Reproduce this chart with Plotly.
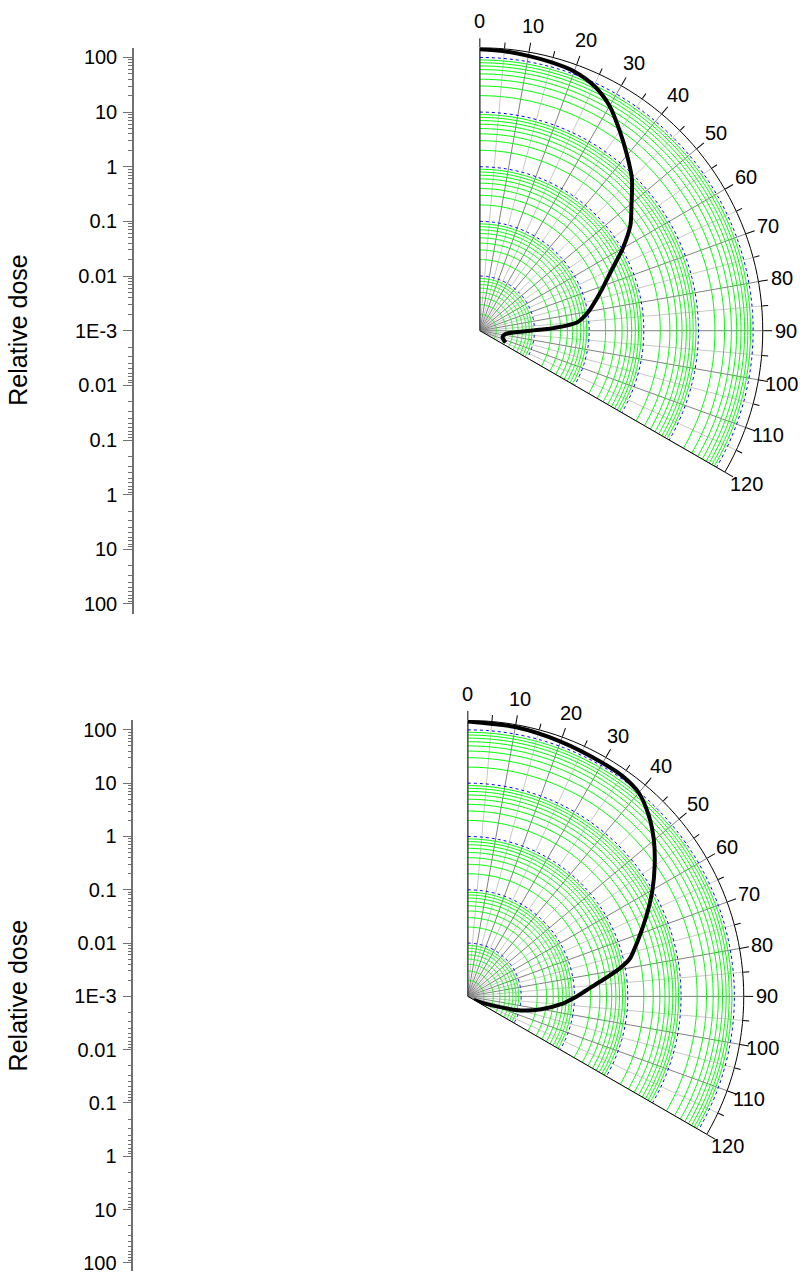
import numpy as np
import plotly.graph_objects as go

W, H = 808, 1275

# Angle (deg, clockwise from the beam axis) and relative dose for each profile
theta_upper = [0, 5, 10, 15, 20, 25, 30, 35, 40, 45, 50, 55, 60, 65, 70, 75, 80,
               85, 88, 90, 95, 100, 106, 112, 114.5]
dose_upper = [141, 136, 128, 121, 112, 88, 56, 29, 15.5, 8.6, 4.2, 2.3, 1.05, 0.47,
              0.26, 0.16, 0.105, 0.062, 0.022, 0.0085, 0.0033, 0.0028, 0.0027,
              0.0030, 0.0033]

theta_lower = [0, 10, 20, 30, 35, 40, 45, 50, 55, 60, 65, 70, 74, 77, 80, 83, 86,
               90, 95, 100, 105, 110, 115, 119.5]
dose_lower = [144, 135, 122, 114, 112, 97, 63, 36, 19, 10, 5.2, 2.8, 1.8, 1.3, 0.72,
              0.36, 0.2, 0.11, 0.055, 0.025, 0.0105, 0.0032, 0.0018, 0.00135]

# Radial log scale (centre = 1E-3) and grid definitions
r_min, r_max = 1e-3, 150
decade_circles = [0.01, 0.1, 1, 10, 100]
minor_circles = [m * 10.0 ** k for k in range(-3, 2) for m in range(2, 10)]
angle_labels = list(range(0, 121, 10))
angle_minor = list(range(5, 120, 10))
spoke_angles = list(range(0, 121, 5))
scale_labels = ["100", "10", "1", "0.1", "0.01", "1E-3", "0.01", "0.1", "1", "10", "100"]

FONT = "Liberation Sans, Arial, sans-serif"

panels = [
    dict(cx=479.3, cy=330.0, R=284.0, axis_x=134.0, theta=theta_upper, dose=dose_upper),
    dict(cx=467.3, cy=998.3, R=277.0, axis_x=133.3, theta=theta_lower, dose=dose_lower),
]

arc = np.arange(0, 120.5, 1.0)


def rings(values):
    r, t = [], []
    for v in values:
        r += [v] * len(arc) + [None]
        t += list(arc) + [None]
    return r, t


def spokes(angles):
    r, t = [], []
    for a in angles:
        r += [r_min, r_max, None]
        t += [a, a, None]
    return r, t


fig = go.Figure()
layout = dict(width=W, height=H, margin=dict(l=0, r=0, t=0, b=0), autosize=False,
              paper_bgcolor="white", plot_bgcolor="white", showlegend=False,
              hovermode=False, font=dict(family=FONT, color="black"), annotations=[])

L = 3 + np.log10(r_max)
minor_vals = []
for k in range(0, 5):
    for m in range(2, 10):
        minor_vals += [k + np.log10(m), -(k + np.log10(m))]

for i, p in enumerate(panels):
    main = "polar" if i == 0 else "polar%d" % (i + 1)
    over = "polar%d" % (i + 3)
    cx, cy, R = p["cx"], p["cy"], p["R"]
    dom = dict(x=[cx / W, (cx + R) / W], y=[1 - (cy + 0.5 * R) / H, 1 - (cy - R) / H])

    light = [a for a in spoke_angles if a % 10]
    dark = [a for a in spoke_angles if a % 10 == 0]
    r, t = spokes(light)
    fig.add_trace(go.Scatterpolar(r=r, theta=t, mode="lines", subplot=main,
                                  line=dict(color="#c8c8c8", width=1)))
    r, t = spokes(dark)
    fig.add_trace(go.Scatterpolar(r=r, theta=t, mode="lines", subplot=main,
                                  line=dict(color="#808080", width=1)))
    r, t = rings(minor_circles)
    fig.add_trace(go.Scatterpolar(r=r, theta=t, mode="lines", subplot=main,
                                  line=dict(color="#00ff00", width=1)))
    r, t = rings(decade_circles)
    fig.add_trace(go.Scatterpolar(r=r, theta=t, mode="lines", subplot=main,
                                  line=dict(color="#0000ff", width=1, dash="dot")))
    fig.add_trace(go.Scatterpolar(r=p["dose"], theta=p["theta"], mode="lines", subplot=main,
                                  line=dict(color="black", width=4, shape="spline", smoothing=0.8)))
    # empty trace so the tick overlay subplot is rendered
    fig.add_trace(go.Scatterpolar(r=[], theta=[], mode="lines", subplot=over))

    layout[main] = dict(
        domain=dom, sector=[-30, 90], bgcolor="white",
        radialaxis=dict(type="log", range=[-3, np.log10(r_max)], showline=False,
                        showticklabels=False, ticks="", showgrid=False),
        angularaxis=dict(rotation=90, direction="clockwise", tickmode="array",
                         tickvals=angle_labels, ticks="outside", ticklen=9,
                         tickcolor="black", tickwidth=1, showticklabels=False,
                         showline=True, linecolor="black", linewidth=1, showgrid=False))
    layout[over] = dict(
        domain=dom, sector=[-30, 90], bgcolor="rgba(0,0,0,0)",
        radialaxis=dict(visible=False, type="log", range=[-3, np.log10(r_max)]),
        angularaxis=dict(rotation=90, direction="clockwise", tickmode="array",
                         tickvals=angle_minor, ticks="outside", ticklen=6,
                         tickcolor="black", tickwidth=1, showticklabels=False,
                         showline=False, showgrid=False))

    # angle labels centred on a ring just outside the scale arc
    scale = R / 284.0
    for a in angle_labels:
        rad = np.radians(a)
        label_r = R + (23.0 + 4.0 * np.cos(rad) ** 2) * scale
        xp = cx + label_r * np.sin(rad)
        yp = cy - label_r * np.cos(rad)
        layout["annotations"].append(dict(
            text=str(a), x=xp / W, y=1 - yp / H, xref="paper", yref="paper",
            showarrow=False, xanchor="center", yanchor="middle",
            font=dict(size=20, color="black", family=FONT)))

    # vertical dose scale, symmetric about 1E-3 at the polar centre
    d = R / L
    bottom_px = min(cy + R, H - 1.0)
    lo = -(bottom_px - cy) / d
    xa = "xaxis" if i == 0 else "xaxis%d" % (i + 1)
    ya = "yaxis" if i == 0 else "yaxis%d" % (i + 1)
    xref = "x" if i == 0 else "x%d" % (i + 1)
    yref = "y" if i == 0 else "y%d" % (i + 1)
    fig.add_trace(go.Scatter(x=[], y=[], xaxis=xref, yaxis=yref, mode="lines"))
    layout[xa] = dict(domain=[p["axis_x"] / W, p["axis_x"] / W + 0.01], visible=False,
                      anchor=yref, range=[0, 1], fixedrange=True)
    layout[ya] = dict(domain=[1 - bottom_px / H, 1 - (cy - R) / H], anchor=xref,
                      range=[lo, L], tickmode="array", tickvals=list(range(-5, 6)),
                      ticktext=scale_labels, ticks="outside", ticklen=9,
                      tickcolor="#707070", tickwidth=1, showline=True,
                      linecolor="#707070", linewidth=1.5, showgrid=False, zeroline=False,
                      fixedrange=True, ticklabelstandoff=2, ticklabeloverflow="allow",
                      tickfont=dict(size=20, color="black", family=FONT),
                      minor=dict(tickmode="array", tickvals=minor_vals, ticks="outside",
                                 ticklen=4, tickcolor="#707070", tickwidth=1, showgrid=False))
    layout["annotations"].append(dict(
        text="Relative dose", x=18 / W, y=1 - cy / H, xref="paper", yref="paper",
        textangle=-90, showarrow=False, xanchor="center", yanchor="middle",
        font=dict(size=25, color="black", family=FONT)))

fig.update_layout(**layout)
fig.write_html("out.html")
